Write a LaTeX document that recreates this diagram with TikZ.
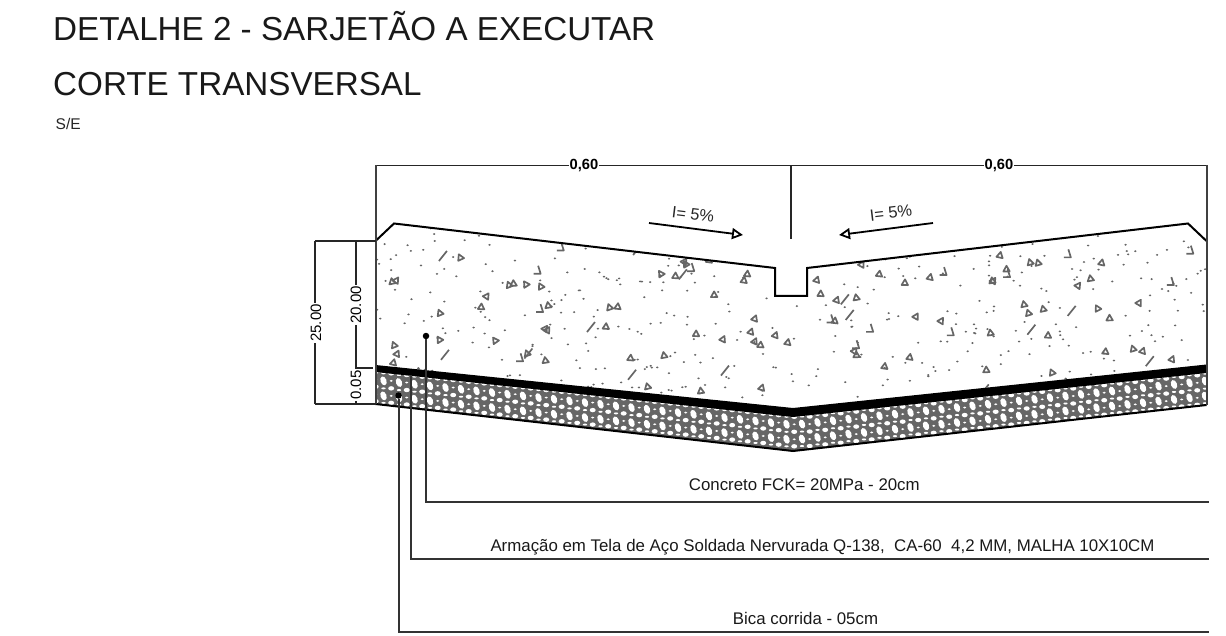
\documentclass[tikz,border=0pt]{standalone}
\usepackage{fontspec}
\setmainfont{Liberation Sans}
\usetikzlibrary{arrows.meta}
\definecolor{hatchgrey}{gray}{0.4}
\tikzset{
    titletext/.style={anchor=base west, inner sep=0pt, font=\fontsize{33.2}{36}\selectfont, text=black!90},
    labeltext/.style={anchor=base, inner sep=0pt, font=\fontsize{16.85}{18}\selectfont, text=black!90},
    dimtext/.style={fill=white, inner sep=1pt, font=\fontsize{15}{16}\selectfont},
    slopetext/.style={inner sep=0pt, font=\fontsize{16.4}{18}\selectfont, text=black!85},
    dimline/.style={line width=1.9pt, black!85},
    leader/.style={line width=2pt, black!80},
    outline/.style={line width=2pt, black},
    slopearrow/.style={line width=1.8pt, -{Triangle[open, length=11pt, width=11pt, line width=1.8pt]}},
    aggregate/.style={hatchgrey, line width=1.7pt, line join=round},
    enddot/.style={circle, fill=black, inner sep=0pt, minimum size=6.5pt}
}
\begin{document}
\begin{tikzpicture}[x=1pt, y=-1pt]
    \useasboundingbox (0,0) rectangle (1226,636);

    % Coordinates
    \coordinate (TL) at (375.5,241);
    \coordinate (TLb) at (394,223.5);
    \coordinate (GL1) at (775,268);
    \coordinate (GL2) at (775,296);
    \coordinate (GR2) at (807,296);
    \coordinate (GR1) at (807,268);
    \coordinate (TRb) at (1188,223.5);
    \coordinate (TR) at (1206.5,241);
    \coordinate (BandTL) at (375.5,365);
    \coordinate (BandTM) at (793,408);
    \coordinate (BandTR) at (1206.5,364.5);
    \coordinate (BandBL) at (375.5,372);
    \coordinate (BandBM) at (793,417);
    \coordinate (BandBR) at (1206.5,373);
    \coordinate (BaseL) at (375.5,404);
    \coordinate (BaseM) at (793,451);
    \coordinate (BaseR) at (1206.5,405);

    % Gravel
    \fill[hatchgrey] (BandBL) -- (BandBM) -- (BandBR) -- (BaseR) -- (BaseM) -- (BaseL) -- cycle;
    \begin{scope}
        \clip (BandBL) -- (BandBM) -- (BandBR) -- (BaseR) -- (BaseM) -- (BaseL) -- cycle;
        \foreach \ex in {368,383.5,...,1215}{
            \pgfmathsetmacro\by{\ex<793 ? 372+(\ex-375.5)*0.1078 : 417-(\ex-793)*0.1064}
            \foreach \oy in {8,23}{
                \fill[white, rotate around={20:(\ex,\by+\oy)}] (\ex,\by+\oy) ellipse (3 and 4.6);
                \fill[white] (\ex+7.7,\by+\oy) ellipse (1.6 and 1);
            }
            \foreach \oy in {0.5,15.5,30}{
                \fill[white] (\ex+7.7,\by+\oy) ellipse (3 and 2.2);
                \fill[white] (\ex,\by+\oy) ellipse (2.2 and 1);
            }
        }
    \end{scope}

    % Concrete aggregate
    \begin{scope}
        \clip (TL) -- (TLb) -- (GL1) -- (GL2) -- (GR2) -- (GR1) -- (TRb) -- (TR) -- (BandTR) -- (BandTM) -- (BandTL) -- cycle;
        \pgfmathsetseed{2718}
        \foreach \i in {1,...,440}{
            \pgfmathsetmacro\px{376+rnd*830}
            \pgfmathsetmacro\py{228+rnd*180}
            \fill[hatchgrey] (\px,\py) ellipse (1.3 and 1);
        }
        \foreach \i in {1,...,100}{
            \pgfmathsetmacro\px{380+rnd*825}
            \pgfmathsetmacro\py{240+rnd*165}
            \pgfmathsetmacro\ang{rnd*70-35}
            \draw[aggregate, rotate around={\ang:(\px,\py)}] (\px-3.2,\py+2.5) -- (\px+3.2,\py+2.5) -- (\px,\py-3.2) -- cycle;
        }
        \foreach \i in {1,...,14}{
            \pgfmathsetmacro\px{380+rnd*825}
            \pgfmathsetmacro\py{245+rnd*150}
            \draw[aggregate] (\px,\py-5) -- (\px+2.5,\py+3) -- (\px-4.5,\py+3);
        }
        \foreach \i in {1,...,14}{
            \pgfmathsetmacro\px{380+rnd*825}
            \pgfmathsetmacro\py{245+rnd*150}
            \draw[aggregate] (\px-4,\py+5) -- (\px+4,\py-5);
        }
    \end{scope}

    % Black band
    \fill[black] (BandTL) -- (BandTM) -- (BandTR) -- (BandBR) -- (BandBM) -- (BandBL) -- cycle;

    % Outlines
    \draw[outline, line join=miter] (TL) -- (TLb) -- (GL1) -- (GL2) -- (GR2) -- (GR1) -- (TRb) -- (TR);
    \draw[outline] (BaseL) -- (BaseM) -- (BaseR);

    % Top dimension
    \coordinate (DimL) at (375.5,165.5);
    \coordinate (DimM) at (791,165.5);
    \coordinate (DimR) at (1206.5,165.5);
    \coordinate (AxisEnd) at (791,239);
    \draw[dimline] (DimL) -- (DimR);
    \draw[line width=2pt, black!75] (DimL) -- (BaseL);
    \draw[line width=2pt, black!75] (DimR) -- (BaseR);
    \draw[line width=2.3pt, black!85] (DimM) -- (AxisEnd);
    \node[dimtext, font=\bfseries\fontsize{14.7}{16}\selectfont] (widthL) at (584,165.5) {0,60};
    \node[dimtext, font=\bfseries\fontsize{14.7}{16}\selectfont] (widthR) at (999,165.5) {0,60};

    % Slope arrows
    \coordinate (ArrLa) at (649,223);
    \coordinate (ArrLb) at (743,235);
    \coordinate (ArrRa) at (933,223);
    \coordinate (ArrRb) at (839,235);
    \draw[slopearrow] (ArrLa) -- (ArrLb);
    \draw[slopearrow] (ArrRa) -- (ArrRb);
    \node[slopetext, rotate=-7] (slopeL) at (693,214.5) {I= 5\%};
    \node[slopetext, rotate=7] (slopeR) at (891,213) {I= 5\%};

    % Left dimensions
    \coordinate (DimA) at (315,241);
    \coordinate (DimB) at (356,241);
    \coordinate (DimC) at (315,404);
    \coordinate (DimD) at (356,404);
    \coordinate (DimE) at (356,368);
    \coordinate (DimEr) at (373,368);
    \draw[dimline] (DimA) -- (TL);
    \draw[dimline] (DimC) -- (BaseL);
    \draw[dimline] (DimE) -- (DimEr);
    \draw[dimline] (DimA) -- (DimC);
    \draw[dimline] (DimB) -- (DimD);
    \node[dimtext, rotate=90] (depthAll) at (316,323) {25.00};
    \node[dimtext, rotate=90] (depthConc) at (356,305) {20.00};
    \node[dimtext, rotate=90] (depthBase) at (356,385) {0.05};

    % Leaders
    \node[enddot] (dotConc) at (426,336) {};
    \node[enddot] (dotBase) at (398.5,395.5) {};
    \coordinate (startMesh) at (410.5,375);
    \coordinate (endConc) at (1209,502);
    \coordinate (endMesh) at (1209,559);
    \coordinate (endBase) at (1209,631.5);
    \draw[leader] (dotConc) |- (endConc);
    \draw[leader] (startMesh) |- (endMesh);
    \draw[leader] (dotBase) |- (endBase);

    % Texts
    \node[titletext] (title) at (53,41) {DETALHE 2 - SARJETÃO A EXECUTAR};
    \node[titletext] (subtitle) at (53,96) {CORTE TRANSVERSAL};
    \node[anchor=base west, inner sep=0pt, font=\fontsize{15.5}{16}\selectfont, text=black!85] (scale) at (55.5,129.5) {S/E};
    \node[labeltext] (labelConc) at (804.3,490) {Concreto FCK= 20MPa - 20cm};
    \node[labeltext] (labelMesh) at (822.5,551) {Armação em Tela de Aço Soldada Nervurada Q-138,\ \ CA-60\ \ 4,2 MM, MALHA 10X10CM};
    \node[labeltext] (labelBase) at (805.5,624.3) {Bica corrida - 05cm};
\end{tikzpicture}
\end{document}
